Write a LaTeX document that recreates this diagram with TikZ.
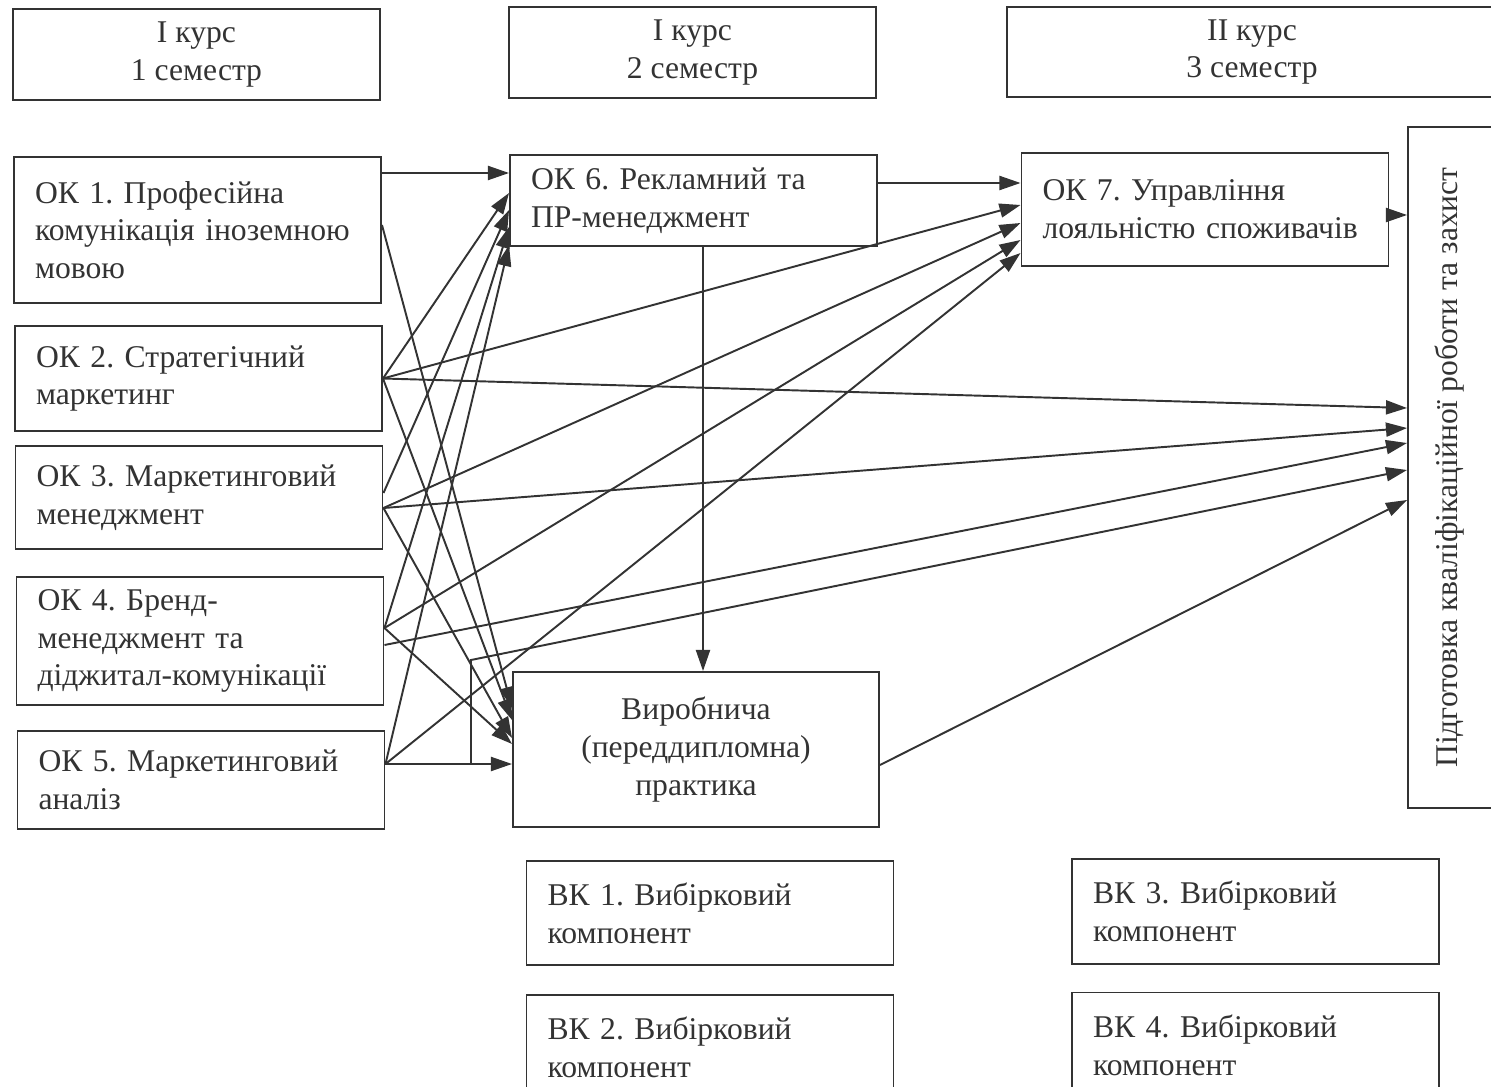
\documentclass[tikz,border=0pt]{standalone}
\usepackage{fontspec}
\setmainfont{Liberation Serif}
\usepackage{tikz}
\usetikzlibrary{arrows.meta,positioning,calc}
\frenchspacing

\begin{document}
\begin{tikzpicture}[line width=1.1pt, color=black!80, font=\fontsize{18}{21.5}\selectfont]

\tikzstyle{block} = [draw, rectangle, minimum width=7.34cm, inner xsep=0.42cm]
\tikzstyle{course} = [block, minimum height=1.82cm, align=center]
\tikzstyle{subj} = [block, text width=6.5cm, align=left]
\tikzstyle{arr} = [-{Triangle[length=12pt,width=8pt]}]

\useasboundingbox (0,0) rectangle (29.82,-21.74);
\clip (0,0) rectangle (29.82,-21.74);

% semesters
\node [course] (sem1) at (3.93,-1.09) {I курс\\1 семестр};
\node [course] (sem2) at (13.85,-1.05) {I курс\\2 семестр};
\node [course, minimum width=9.8cm, minimum height=1.8cm] (sem3) at (25.04,-1.04) {II курс\\3 семестр};

% first semester
\node [subj, minimum height=2.92cm] (ok1) at (3.95,-4.60) {ОК 1. Професійна\\комунікація іноземною\\мовою};
\node [subj, minimum height=2.10cm] (ok2) at (3.97,-7.57) {ОК 2. Стратегічний\\маркетинг};
\node [subj, minimum height=2.06cm] (ok3) at (3.98,-9.95) {ОК 3. Маркетинговий\\менеджмент};
\node [subj, minimum height=2.56cm] (ok4) at (4.00,-12.82) {ОК 4. Бренд-\\менеджмент та\\діджитал-комунікації};
\node [subj, minimum height=1.96cm] (ok5) at (4.02,-15.60) {ОК 5. Маркетинговий\\аналіз};

% second and third semester
\node [subj, minimum height=1.82cm] (ok6) at (13.87,-4.01) {ОК 6. Рекламний та\\ПР-менеджмент};
\node [subj, minimum height=2.26cm] (ok7) at (24.10,-4.19) {ОК 7. Управління\\лояльністю споживачів};
\node [block, minimum width=7.32cm, minimum height=3.10cm, align=center] (prac) at (13.92,-14.99) {Виробнича\\(переддипломна)\\практика};
\node [draw, minimum width=1.76cm, minimum height=13.62cm] (final) at (29.04,-9.35) {};
\node [rotate=90] (final-text) at ([xshift=-0.04cm]final.center) {Підготовка кваліфікаційної роботи та захист};

% elective components
\node [subj, minimum height=2.08cm] (vk1) at (14.20,-18.26) {ВК 1. Вибірковий\\компонент};
\node [subj, minimum height=2.08cm] (vk2) at (14.20,-20.94) {ВК 2. Вибірковий\\компонент};
\node [subj, minimum height=2.10cm] (vk3) at (25.11,-18.23) {ВК 3. Вибірковий\\компонент};
\node [subj, minimum height=2.10cm] (vk4) at (25.11,-20.90) {ВК 4. Вибірковий\\компонент};

% into OK 6
\draw [arr] ([yshift=1.14cm]ok1.east) -- ([yshift=0.55cm]ok6.west);
\draw [arr] (ok2.east) -- ([yshift=0.15cm]ok6.west);
\draw [arr] ([yshift=0.09cm]ok3.east) -- ([yshift=-0.19cm]ok6.west);
\draw [arr] ([yshift=0.26cm]ok4.east) -- ([yshift=-0.53cm]ok6.west);
\draw [arr] ([yshift=0.32cm]ok5.east) -- ([yshift=-0.89cm]ok6.west);

% into OK 7
\draw [arr] ([yshift=0.35cm]ok6.east) -- ([yshift=0.53cm]ok7.west);
\draw [arr] (ok2.east) -- ([yshift=0.09cm]ok7.west);
\draw [arr] ([yshift=-0.21cm]ok3.east) -- ([yshift=-0.27cm]ok7.west);
\draw [arr] ([yshift=0.26cm]ok4.east) -- ([yshift=-0.61cm]ok7.west);
\draw [arr] ([yshift=0.32cm]ok5.east) -- ([yshift=-0.87cm]ok7.west);

% into practice
\draw [arr] ([yshift=0.1cm]ok1.east) -- ([yshift=0.83cm]prac.west);
\draw [arr] (ok2.east) -- ([yshift=0.59cm]prac.west);
\draw [arr] ([yshift=-0.21cm]ok3.east) -- ([yshift=0.23cm]prac.west);
\draw [arr] ([yshift=0.26cm]ok4.east) -- ([yshift=0.11cm]prac.west);
\draw [arr] ([yshift=0.32cm]ok5.east) -- ([yshift=-0.29cm]prac.west);
\draw [arr] ([xshift=0.19cm]ok6.south) -- ([xshift=0.14cm]prac.north);

% into final
\draw [arr] ([yshift=-0.11cm]ok7.east) -- ([yshift=5.05cm]final.west);
\draw [arr] (ok2.east) -- ([yshift=1.19cm]final.west);
\draw [arr] ([yshift=-0.21cm]ok3.east) -- ([yshift=0.79cm]final.west);
\draw [arr] ([yshift=-0.08cm]ok4.east) -- ([yshift=0.49cm]final.west);
\coordinate (turn) at (9.42,-13.2);
\draw [arr] ([yshift=0.32cm]ok5.east) -| (turn) -- ([yshift=-0.05cm]final.west);
\draw [arr] ([yshift=-0.31cm]prac.east) -- ([yshift=-0.65cm]final.west);

\end{tikzpicture}
\end{document}
